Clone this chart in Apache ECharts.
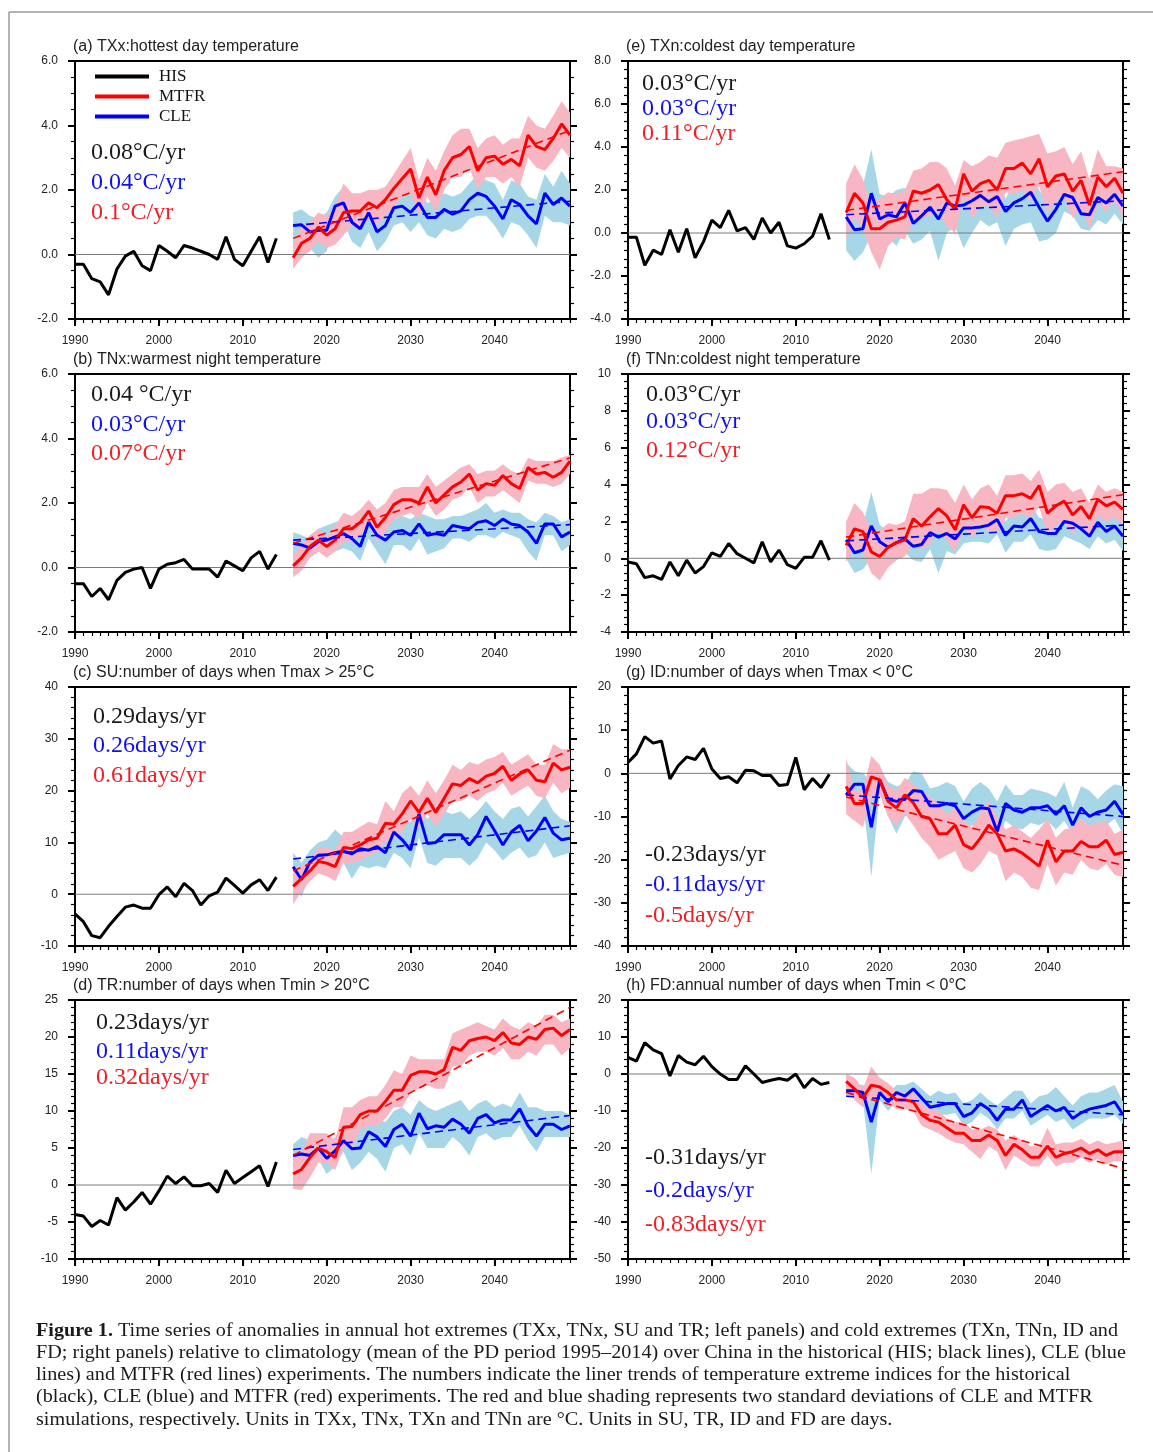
<!DOCTYPE html>
<html>
<head>
<meta charset="utf-8">
<script src="https://cdn.jsdelivr.net/npm/echarts@6/dist/echarts.min.js"></script>
<style>html,body{margin:0;background:#fff}#main{width:1153px;height:1452px}</style>
</head>
<body>
<div id="main"></div>
<script>
// years
var hisYears = [];
for (var y = 1990; y <= 2014; y++) hisYears.push(y);
var futYears = [];
for (var y = 2016; y <= 2049; y++) futYears.push(y);
var trendYears = [2016, 2049];

// (a) TXx
var txxHis = [-0.3,-0.3,-0.75,-0.85,-1.25,-0.45,-0.05,0.1,-0.35,-0.5, 0.28,0.1,-0.1,0.28,0.2,0.1,0.0,-0.15,0.55,-0.15, -0.35,0.1,0.55,-0.25,0.5];
var txxCle = [0.9,0.92,0.7,0.75,0.75,1.5,1.6,1.0,0.8,1.3, 0.7,0.9,1.45,1.5,1.3,1.6,1.15,1.15,1.4,1.25, 1.35,1.7,1.9,1.8,1.5,1.1,1.7,1.55,1.2,0.95, 1.9,1.55,1.75,1.5];
var txxCleHi = [1.3,1.4,1.2,1.1,1.3,1.8,2.1,1.5,1.3,1.8, 1.3,1.4,1.9,2.0,1.9,2.1,1.6,1.7,1.9,1.8, 1.9,2.2,2.5,2.3,2.2,1.7,2.3,2.2,1.8,1.7, 2.5,2.1,2.6,2.2];
var txxCleLo = [0.3,0.4,0.2,-0.1,0.1,1.0,1.0,0.4,0.2,0.7, 0.1,0.4,0.9,1.0,0.7,1.0,0.6,0.5,0.8,0.7, 0.8,1.1,1.2,1.2,0.9,0.5,1.0,0.9,0.6,0.2, 1.2,1.0,1.0,0.9];
var txxMtfr = [-0.1,0.35,0.5,0.85,0.6,0.8,1.3,1.35,1.35,1.6, 1.45,1.7,2.05,2.35,2.65,1.75,2.4,1.85,2.6,3.0, 3.1,3.35,2.6,3.0,3.05,2.8,2.95,2.75,3.7,3.35, 3.25,3.6,4.05,3.7];
var txxMtfrHi = [0.3,0.9,1.0,1.3,1.2,1.5,2.2,1.9,1.9,2.0, 2.0,2.1,2.5,2.9,3.3,2.3,3.0,2.6,3.2,3.7, 3.9,3.9,3.3,3.6,3.7,3.4,3.6,3.6,4.3,4.0, 3.9,4.3,4.75,4.4];
var txxMtfrLo = [-0.45,-0.1,0.1,0.4,0.2,0.3,0.6,0.9,0.9,1.1, 0.9,1.2,1.5,1.8,1.9,1.2,1.8,1.3,2.0,2.4, 2.4,2.7,2.0,2.4,2.4,2.2,2.4,2.1,3.0,2.7, 2.6,2.9,3.3,3.0];
var txxTrendCle = [0.9, 1.65];
var txxTrendMtfr = [0.5, 3.85];
var txxNotes = ['0.08°C/yr', '0.04°C/yr', '0.1°C/yr'];

// (b) TNx
var tnxHis = [-0.5,-0.5,-0.9,-0.65,-1.0,-0.4,-0.15,-0.05,0.0,-0.65, -0.05,0.1,0.15,0.25,-0.05,-0.05,-0.05,-0.3,0.2,0.05, -0.1,0.3,0.5,-0.05,0.4];
var tnxCle = [0.75,0.7,0.6,0.8,0.85,0.95,1.05,0.9,0.65,1.4, 1.0,0.85,1.1,1.15,1.0,1.35,1.0,1.05,1.0,1.3, 1.25,1.2,1.4,1.45,1.3,1.5,1.35,1.3,1.1,0.75, 1.35,1.35,0.95,1.1];
var tnxCleHi = [1.1,1.0,0.9,1.2,1.3,1.4,1.5,1.3,1.3,1.8, 1.4,1.4,1.5,1.6,1.5,1.7,1.6,1.5,1.5,1.6, 1.6,1.7,1.8,2.0,1.7,1.8,1.7,1.7,1.5,1.4, 1.7,1.6,1.4,1.5];
var tnxCleLo = [0.4,0.4,0.3,0.5,0.5,0.5,0.6,0.5,0.2,0.9, 0.5,0.1,0.7,0.7,0.5,0.9,0.4,0.5,0.6,0.9, 0.9,0.8,1.0,1.0,0.9,1.1,1.0,0.9,0.5,0.2, 1.0,1.0,0.5,0.7];
var tnxMtfr = [0.05,0.3,0.65,0.85,0.65,0.85,1.2,1.2,1.4,1.75, 1.25,1.55,1.95,2.1,2.1,2.0,2.5,2.0,2.25,2.5, 2.65,2.9,2.4,2.6,2.55,2.85,2.6,2.45,3.1,2.9, 2.95,2.8,2.95,3.3];
var tnxMtfrHi = [0.4,0.7,1.0,1.2,1.0,1.3,1.7,1.6,1.8,2.1, 1.8,2.0,2.4,2.5,2.5,2.5,2.9,2.5,2.7,2.9, 3.1,3.2,2.9,3.0,3.0,3.2,3.0,2.9,3.4,3.3, 3.3,3.3,3.4,3.5];
var tnxMtfrLo = [-0.3,-0.1,0.3,0.5,0.3,0.5,0.8,0.8,1.0,1.3, 0.8,1.1,1.5,1.6,1.7,1.5,2.0,1.6,1.8,2.1, 2.2,2.5,2.0,2.2,2.2,2.4,2.2,2.0,2.7,2.6, 2.6,2.5,2.6,2.9];
var tnxTrendCle = [0.85, 1.33];
var tnxTrendMtfr = [0.75, 3.4];
var tnxNotes = ['0.04 °C/yr', '0.03°C/yr', '0.07°C/yr'];

// (c) SU
var suHis = [-3.8,-5.3,-8.0,-8.4,-6.2,-4.3,-2.5,-2.1,-2.7,-2.7, -0.1,1.4,-0.5,2.1,0.7,-2.1,-0.3,0.4,3.1,1.7, 0.2,1.8,2.8,0.7,3.3];
var suCle = [5.3,2.8,6.2,7.5,7.6,8.0,8.3,7.8,8.8,8.5, 9.2,8.0,12.0,10.5,8.5,15.5,9.8,10.0,11.5,11.5, 11.5,9.5,11.5,15.0,12.3,9.5,12.0,13.3,10.3,12.2, 14.8,11.8,10.5,10.8];
var suCleHi = [8,6,8.5,10,10.5,12.5,11,11,12.5,12, 13.5,12,15,14,14,17,14.5,16,16,15.5, 16,14.5,16,18,16,14.5,16.5,17,15,17, 19,16,14.5,14];
var suCleLo = [2,-0.5,3.5,4.5,5,4.5,6,3,5.5,5, 5.5,5,8,7,5,11,6,5.5,7,7, 7,5.5,7,10,8.5,6.5,8,9,7,7.5, 10,7,7.5,8];
var suMtfr = [1.5,3.0,4.5,6.3,6.0,5.3,9.0,8.8,9.5,10.5, 10.8,13.7,13.5,15.5,18.0,15.8,18.5,15.8,18.5,21.3, 21.0,22.3,21.5,22.8,23.3,24.7,22.0,23.2,24.0,22.0, 21.7,25.3,24.0,24.5];
var suMtfrHi = [4,5.5,6.5,9,9,8.5,12,12,13,14, 13.5,18,16,19.5,21,19,22,19.5,22,25, 24,25.5,25,26,26.5,27.5,25,26,27,25, 25,29,28,28];
var suMtfrLo = [-2,0.5,2.5,4,3.5,2.5,6,6,6.5,7.5, 8,10,11,12,14.5,13,15.5,13,15.5,18, 18,19,18,19.5,20,21.5,19,20,21,19, 18.5,21.5,19.5,20.5];
var suTrendCle = [6.8, 13.2];
var suTrendMtfr = [4.5, 27.8];
var suNotes = ['0.29days/yr', '0.26days/yr', '0.61days/yr'];

// (d) TR
var trHis = [-4.0,-4.2,-5.6,-4.8,-5.4,-1.7,-3.4,-2.3,-1.0,-2.6, -0.8,1.2,0.2,1.1,-0.1,-0.1,0.2,-1.0,2.0,0.2, 1.0,1.8,2.6,-0.2,3.1];
var trCle = [4.0,4.2,4.0,5.0,3.6,4.6,6.0,4.9,5.0,7.2, 6.5,5.2,7.5,8.2,6.6,9.7,7.6,8.0,7.8,8.9, 8.2,7.0,9.0,9.5,8.4,8.8,8.8,10.3,8.0,6.6, 8.2,8.2,7.5,8.0];
var trCleHi = [5.5,6.5,6,6,5.5,6.5,8,7.5,8.5,9.5, 9,8.5,10,10.5,9.5,11.5,10.5,10,10.5,11, 11.5,10,11,11.5,10.5,11,10.5,12.5,10.5,10.5, 10,10,10,9.5];
var trCleLo = [2.5,2,2.5,3.5,1.5,2.5,4.5,2,3,4.5, 3.5,1.8,5,5.5,4,7,5,5,5,6.5, 5.5,4,6.5,7,6,6.5,6.5,8,6,4.5, 6.5,6.5,6.5,6.5];
var trMtfr = [1.5,2.1,3.7,5.0,4.5,3.7,7.8,7.9,9.5,10.0, 10.0,11.3,12.8,12.8,14.8,15.3,15.3,15.0,15.6,18.6, 18.2,19.5,19.8,20.0,19.5,20.6,19.2,19.0,20.0,19.7, 21.0,21.2,20.2,21.0];
var trMtfrHi = [3.5,4.5,7,7,7,6,10.5,10.5,11.5,12, 12,13.5,15.5,15,17.5,17,17,17,17,20.5, 21,21.5,22,21.5,21,22.5,21.5,21,22,21.5, 23,23,22,22.5];
var trMtfrLo = [-0.5,-0.7,1,3,3,2,5,5,7.5,8, 8,9,10.5,10.5,12.5,13,13.5,13,13,16, 16,17.5,18,18,17.5,18.5,17,17,18,17.5, 19,19,17.5,18.5];
var trTrendCle = [4.8, 9.4];
var trTrendMtfr = [4.0, 24.0];
var trNotes = ['0.23days/yr', '0.11days/yr', '0.32days/yr'];

// (e) TXn
var txnHis = [-0.2,-0.2,-1.5,-0.8,-1.0,0.15,-0.9,0.2,-1.15,-0.4, 0.6,0.25,1.05,0.1,0.25,-0.3,0.7,0.0,0.5,-0.6, -0.7,-0.5,-0.15,0.9,-0.3];
var txnCle = [0.75,0.15,0.2,1.85,0.65,0.85,0.75,1.4,0.45,0.8, 1.2,0.65,1.4,1.25,1.3,1.5,1.75,1.45,1.7,1.0, 1.4,1.6,1.9,1.2,0.55,1.1,1.8,1.65,0.9,0.85, 1.65,1.4,1.8,1.25];
var txnCleHi = [2.0,1.6,2.2,3.9,1.8,1.7,2.0,2.1,1.3,1.9, 2.2,1.5,2.6,2.0,1.9,2.3,2.6,2.2,2.5,1.6, 2.3,2.3,2.8,2.0,1.4,2.0,2.5,2.5,1.6,1.5, 2.3,2.0,2.5,2.0];
var txnCleLo = [-0.8,-1.3,-0.9,-0.1,-0.8,-0.2,-0.6,0.1,-0.5,-0.3, 0.1,-1.3,0.0,0.3,-0.7,0.0,0.6,0.3,0.5,-0.6, 0.2,0.4,0.5,-0.4,-0.3,0.0,1.0,0.8,0.2,0.1, 0.6,0.4,0.9,0.4];
var txnMtfr = [0.95,1.85,1.4,0.2,0.2,0.5,0.6,0.75,1.95,1.85, 2.0,2.25,1.55,1.1,2.75,1.95,2.3,2.45,2.0,3.0, 3.0,3.25,2.75,3.45,2.15,2.65,2.75,1.95,2.45,1.3, 2.6,2.15,2.55,1.85];
var txnMtfrHi = [2.3,3.2,2.5,1.3,1.6,1.9,1.8,2.0,2.9,3.0, 3.3,3.3,3.0,2.2,3.4,3.1,3.3,3.6,3.5,4.2, 4.3,4.4,4.5,4.6,3.7,3.8,4.0,3.2,3.8,2.5, 3.9,3.1,3.1,3.0];
var txnMtfrLo = [-0.3,0.7,0.2,-0.9,-1.7,-0.6,-0.2,-0.3,0.6,0.7, 0.8,1.0,0.3,0.0,1.7,0.7,1.2,1.3,0.7,1.9, 1.8,2.0,1.5,2.2,0.9,1.5,1.6,0.7,1.2,0.2, 1.4,1.0,1.5,0.7];
var txnTrendCle = [0.85, 1.5];
var txnTrendMtfr = [1.05, 2.85];
var txnNotes = ['0.03°C/yr', '0.03°C/yr', '0.11°C/yr'];

// (f) TNn
var tnnHis = [-0.2,-0.3,-1.05,-0.95,-1.15,-0.2,-0.95,-0.1,-0.8,-0.45, 0.3,0.1,0.8,0.25,0.0,-0.25,0.9,-0.2,0.45,-0.35, -0.55,0.05,0.05,0.95,-0.1];
var tnnCle = [1.0,0.3,0.45,1.75,0.9,0.6,0.85,1.05,0.65,0.75, 1.4,1.15,1.35,1.05,1.65,1.65,1.7,1.8,2.1,1.25, 1.75,1.7,2.15,1.45,1.35,1.35,2.0,1.9,1.6,1.2, 1.95,1.45,1.75,1.2];
var tnnCleHi = [2.0,1.4,1.8,3.6,1.8,1.5,1.7,2.0,1.5,1.6, 2.2,2.0,2.2,1.8,2.5,2.4,2.6,2.6,2.9,2.0, 2.6,2.5,3.0,2.2,2.1,2.1,2.8,2.7,2.3,1.9, 2.7,2.2,2.5,2.0];
var tnnCleLo = [0.0,-0.8,-0.6,0.0,0.1,-0.1,0.1,0.3,-0.1,-0.2, 0.5,-0.8,0.4,0.2,0.8,0.9,0.9,0.8,1.3,0.3, 0.9,0.9,1.3,0.5,0.4,0.5,1.2,1.0,0.8,0.5, 1.2,0.8,1.0,0.4];
var tnnMtfr = [0.7,1.6,1.45,0.35,0.1,0.6,0.85,1.0,2.15,1.75, 2.25,2.7,2.3,1.55,2.9,2.2,2.8,2.75,2.45,3.4, 3.4,3.5,3.25,3.95,2.45,2.85,3.1,2.35,2.8,2.15, 3.2,2.85,3.05,2.65];
var tnnMtfrHi = [2.0,3.0,2.5,1.5,1.5,1.9,1.8,2.0,3.5,3.5, 3.8,3.8,3.7,3.0,4.0,3.2,3.8,4.0,3.4,4.5, 4.5,4.6,4.2,4.8,3.6,4.0,4.1,3.6,3.8,3.0, 4.0,3.6,3.8,3.6];
var tnnMtfrLo = [-0.2,0.5,0.3,-0.8,-1.2,-0.5,-0.1,0.1,0.8,0.5, 0.8,1.5,1.0,0.3,1.7,1.1,1.7,1.5,1.3,2.2, 2.2,2.4,2.2,2.8,1.3,1.8,2.0,1.3,1.8,1.2, 2.3,2.0,2.2,1.8];
var tnnTrendCle = [0.95, 1.8];
var tnnTrendMtfr = [1.15, 3.45];
var tnnNotes = ['0.03°C/yr', '0.03°C/yr', '0.12°C/yr'];

// (g) ID
var idHis = [2.5,4.5,8.5,7.0,7.5,-1.3,1.8,3.8,3.2,5.8, 1.0,-1.2,-0.8,-2.2,0.7,0.6,-0.5,-0.5,-2.8,-2.6, 3.7,-3.8,-1.2,-3.3,-0.2];
var idCle = [-5.0,-2.5,-2.5,-12.5,-1.5,-6.0,-6.5,-6.0,-4.0,-4.2, -7.5,-7.5,-7.0,-7.5,-10.5,-9.0,-8.0,-8.2,-13.5,-7.0, -8.5,-9.0,-8.0,-8.0,-7.5,-9.5,-7.5,-12.0,-8.0,-10.0, -9.0,-8.5,-6.5,-9.5];
var idCleHi = [2.5,0.5,0,-2,1.5,-2,-3,-2.5,0.5,0, -3.5,-3,-2,-3,-6.5,-3.5,-2,-3.5,-6.5,-2.5, -5,-5,-3.5,-4,-4.5,-5.5,-2,-8,-3,-4, -6,-4,-2.5,-3];
var idCleLo = [-8,-6,-6,-24,-4.5,-10,-14,-10,-9,-9, -11,-11,-10.5,-11,-14,-12,-12,-12,-16,-11, -12.5,-13,-11.5,-12,-11,-13,-11,-14,-11.5,-13, -11.5,-12,-10.5,-14];
var idMtfr = [-3.0,-7.0,-7.0,-0.8,-1.5,-6.5,-8.0,-5.0,-6.8,-10.0, -10.5,-14.0,-14.0,-12.0,-16.5,-17.5,-15.0,-12.0,-14.0,-18.0, -17.5,-18.5,-20.0,-21.5,-15.5,-20.5,-18.0,-18.0,-15.8,-17.0, -17.0,-15.5,-18.8,-18.3];
var idMtfrHi = [3.5,-4,-4,4,2,-3,-4,-1,-2.5,-4, -5.5,-7,-9.5,-8,-11,-12.5,-9,-6.5,-10,-13, -12,-13.5,-15,-13,-10.5,-15,-13,-12.5,-10.5,-12, -11.5,-11,-14,-13];
var idMtfrLo = [-9.5,-11,-12.5,-6,-5,-10,-12,-9.5,-12,-15, -17,-20,-19,-18,-22,-23,-21,-18,-19,-25, -23,-24,-26.5,-27,-21,-26,-23,-23.5,-20,-22, -22.5,-21,-23.5,-24];
var idTrendCle = [-5.0, -10.0];
var idTrendMtfr = [-5.5, -21.3];
var idNotes = ['-0.23days/yr', '-0.11days/yr', '-0.5days/yr'];

// (h) FD
var fdHis = [4.5,3.5,8.5,6.5,5.5,-0.5,5.0,3.2,2.5,4.8, 2.0,0.0,-1.5,-1.5,2.2,0.0,-2.3,-1.7,-1.2,-1.7, 0.0,-3.7,-1.2,-2.8,-2.3];
var fdCle = [-4.5,-4.5,-5.0,-13.0,-5.0,-7.5,-5.0,-6.0,-4.0,-6.5, -9.0,-8.5,-8.0,-8.0,-11.5,-10.5,-8.0,-9.5,-12.5,-9.5, -9.5,-7.0,-11.5,-10.0,-8.5,-10.0,-9.0,-12.0,-10.5,-9.5, -9.0,-8.5,-7.5,-11.0];
var fdCleHi = [-3,-2.5,-3,-4.5,-3,-5.5,-3,-3,-2,-4, -6,-4.5,-5.5,-5,-8,-7,-5,-7,-8.5,-6.5, -4.5,-4.5,-8,-6,-5.5,-3.5,-6,-8.5,-6,-5, -5,-4,-3,-7.5];
var fdCleLo = [-6,-6.5,-7,-27,-7,-10,-7.5,-9,-7,-9, -11.5,-11,-11,-10.5,-14,-13,-10.5,-12,-15,-12, -12,-10,-14,-12.5,-11,-13,-12,-15,-13.5,-12, -12,-12,-11,-13.5];
var fdMtfr = [-2.0,-4.0,-6.5,-3.0,-3.5,-5.0,-7.0,-7.0,-7.5,-11.0, -12.5,-13.0,-14.5,-16.0,-16.0,-18.0,-18.0,-16.5,-18.0,-22.0, -19.0,-20.5,-22.5,-22.5,-19.5,-22.5,-21.5,-21.0,-20.0,-21.5, -20.5,-22.0,-21.0,-21.0];
var fdMtfrHi = [0,-1,-4,2,-1,-2.5,-4.5,-5,-5,-8, -9.5,-10,-12,-13,-13,-15,-15,-14,-15,-18, -16.5,-18,-19.5,-19.5,-14.5,-19,-18.5,-18.5,-17.5,-19, -18,-19,-18.5,-18];
var fdMtfrLo = [-4,-7,-9,-7,-6,-7.5,-9.5,-9.5,-10,-14, -15,-16,-17.5,-18.5,-19,-21,-23,-19.5,-21,-26, -22,-23.5,-25,-25,-22,-25,-24,-24,-22.5,-24, -23,-24.5,-23.5,-23.5];
var fdTrendCle = [-6.0, -11.0];
var fdTrendMtfr = [-5.0, -25.5];
var fdNotes = ['-0.31days/yr', '-0.2days/yr', '-0.83days/yr'];

var captionLines = [
    '{b|Figure 1.} Time series of anomalies in annual hot extremes (TXx, TNx, SU and TR; left panels) and cold extremes (TXn, TNn, ID and',
    'FD; right panels) relative to climatology (mean of the PD period 1995–2014) over China in the historical (HIS; black lines), CLE (blue',
    'lines) and MTFR (red lines) experiments. The numbers indicate the liner trends of temperature extreme indices for the historical',
    '(black), CLE (blue) and MTFR (red) experiments. The red and blue shading represents two standard deviations of CLE and MTFR',
    'simulations, respectively. Units in TXx, TNx, TXn and TNn are °C. Units in SU, TR, ID and FD are days.'
];

var panels = [
    {title: '(a) TXx:hottest day temperature', his: txxHis, cle: txxCle, cleLo: txxCleLo, cleHi: txxCleHi, mtfr: txxMtfr, mtfrLo: txxMtfrLo, mtfrHi: txxMtfrHi, tCle: txxTrendCle, tMtfr: txxTrendMtfr, notes: txxNotes, yMin: -2, yMax: 6, step: 2, minor: 4, dec: 1},
    {title: '(b) TNx:warmest night temperature', his: tnxHis, cle: tnxCle, cleLo: tnxCleLo, cleHi: tnxCleHi, mtfr: tnxMtfr, mtfrLo: tnxMtfrLo, mtfrHi: tnxMtfrHi, tCle: tnxTrendCle, tMtfr: tnxTrendMtfr, notes: tnxNotes, yMin: -2, yMax: 6, step: 2, minor: 4, dec: 1},
    {title: '(c) SU:number of days when Tmax > 25°C', his: suHis, cle: suCle, cleLo: suCleLo, cleHi: suCleHi, mtfr: suMtfr, mtfrLo: suMtfrLo, mtfrHi: suMtfrHi, tCle: suTrendCle, tMtfr: suTrendMtfr, notes: suNotes, yMin: -10, yMax: 40, step: 10, minor: 5, dec: 0},
    {title: '(d) TR:number of days when Tmin > 20°C', his: trHis, cle: trCle, cleLo: trCleLo, cleHi: trCleHi, mtfr: trMtfr, mtfrLo: trMtfrLo, mtfrHi: trMtfrHi, tCle: trTrendCle, tMtfr: trTrendMtfr, notes: trNotes, yMin: -10, yMax: 25, step: 5, minor: 5, dec: 0},
    {title: '(e) TXn:coldest day temperature', his: txnHis, cle: txnCle, cleLo: txnCleLo, cleHi: txnCleHi, mtfr: txnMtfr, mtfrLo: txnMtfrLo, mtfrHi: txnMtfrHi, tCle: txnTrendCle, tMtfr: txnTrendMtfr, notes: txnNotes, yMin: -4, yMax: 8, step: 2, minor: 5, dec: 1},
    {title: '(f) TNn:coldest night temperature', his: tnnHis, cle: tnnCle, cleLo: tnnCleLo, cleHi: tnnCleHi, mtfr: tnnMtfr, mtfrLo: tnnMtfrLo, mtfrHi: tnnMtfrHi, tCle: tnnTrendCle, tMtfr: tnnTrendMtfr, notes: tnnNotes, yMin: -4, yMax: 10, step: 2, minor: 5, dec: 0},
    {title: '(g) ID:number of days when Tmax < 0°C', his: idHis, cle: idCle, cleLo: idCleLo, cleHi: idCleHi, mtfr: idMtfr, mtfrLo: idMtfrLo, mtfrHi: idMtfrHi, tCle: idTrendCle, tMtfr: idTrendMtfr, notes: idNotes, yMin: -40, yMax: 20, step: 10, minor: 5, dec: 0},
    {title: '(h) FD:annual number of days when Tmin < 0°C', his: fdHis, cle: fdCle, cleLo: fdCleLo, cleHi: fdCleHi, mtfr: fdMtfr, mtfrLo: fdMtfrLo, mtfrHi: fdMtfrHi, tCle: fdTrendCle, tMtfr: fdTrendMtfr, notes: fdNotes, yMin: -50, yMax: 20, step: 10, minor: 5, dec: 0}
];

// where each panel sits on the page
var layout = [
    {left: 75, top: 61, h: 258, nx: 91, ny: [153, 183, 213]},
    {left: 75, top: 374, h: 258, nx: 91, ny: [395, 425, 454]},
    {left: 75, top: 687, h: 259, nx: 93, ny: [717, 746, 776]},
    {left: 75, top: 1000, h: 259, nx: 96, ny: [1023, 1052, 1078]},
    {left: 628, top: 61, h: 258, nx: 642, ny: [84, 109, 134]},
    {left: 628, top: 374, h: 258, nx: 646, ny: [395, 422, 451]},
    {left: 628, top: 687, h: 259, nx: 645, ny: [855, 885, 916]},
    {left: 628, top: 1000, h: 259, nx: 645, ny: [1158, 1191, 1225]}
];
var panelW = 495;

var BLACK = '#000', BLUE = '#0000ff', RED = '#ff0000';
var LIGHTBLUE = '#a7d7e7', PINK = '#f8b6c2';
var noteColors = ['#1a1a1a', '#1111ee', '#ee2026'];

function pair(xs, ys) {
    return xs.map(function (x, k) { return [x, ys[k]]; });
}

// shaded spread: one polygon drawn through the axis scales
function bandSeries(i, lo, hi, color) {
    return {
        type: 'custom', xAxisIndex: 2 * i, yAxisIndex: 2 * i, silent: true, z: 1, clip: true,
        data: futYears.map(function (yr, k) { return [yr, lo[k], hi[k]]; }),
        encode: {x: 0, y: [1, 2]},
        renderItem: function (params, api) {
            if (params.dataIndex !== 0) return null;
            var pts = [];
            for (var k = 0; k < futYears.length; k++) pts.push(api.coord([futYears[k], hi[k]]));
            for (var k = futYears.length - 1; k >= 0; k--) pts.push(api.coord([futYears[k], lo[k]]));
            return {type: 'polygon', shape: {points: pts}, style: {fill: color}};
        }
    };
}

var grids = [], xAxes = [], yAxes = [], series = [], graphics = [];
var labelFont = {fontFamily: 'Liberation Sans', fontSize: 12, color: '#222'};

panels.forEach(function (p, i) {
    var L = layout[i];
    grids.push({left: L.left, top: L.top, width: panelW, height: L.h, show: true, borderColor: '#000', borderWidth: 2});
    // decades with labels
    xAxes.push({
        gridIndex: i, type: 'value', position: 'bottom', min: 1990, max: 2049, interval: 10,
        axisLine: {onZero: false, lineStyle: {color: '#000', width: 2}},
        axisTick: {length: 7, lineStyle: {color: '#000', width: 2}},
        axisLabel: Object.assign({margin: 16, showMaxLabel: false, formatter: function (v) { return String(v); }}, labelFont),
        splitLine: {show: false}
    });
    // one small tick per year
    xAxes.push({
        gridIndex: i, type: 'value', position: 'bottom', min: 1990, max: 2049, interval: 1,
        axisLine: {show: false, onZero: false},
        axisTick: {length: 4, lineStyle: {color: '#000', width: 1.2}},
        axisLabel: {show: false}, splitLine: {show: false}
    });
    var yBase = {
        gridIndex: i, type: 'value', min: p.yMin, max: p.yMax, interval: p.step,
        axisLine: {show: true, onZero: false, lineStyle: {color: '#000', width: 2}},
        axisTick: {length: 7, lineStyle: {color: '#000', width: 2}},
        minorTick: {show: true, splitNumber: p.minor, length: 4, lineStyle: {color: '#000', width: 1.2}},
        splitLine: {show: false}, minorSplitLine: {show: false}
    };
    yAxes.push(Object.assign({}, yBase, {
        position: 'left',
        axisLabel: Object.assign({margin: 17, formatter: function (v) { return v.toFixed(p.dec); }}, labelFont)
    }));
    yAxes.push(Object.assign({}, yBase, {position: 'right', axisLabel: {show: false}}));

    var ax = {xAxisIndex: 2 * i, yAxisIndex: 2 * i};
    series.push(bandSeries(i, p.cleLo, p.cleHi, LIGHTBLUE));
    series.push(bandSeries(i, p.mtfrLo, p.mtfrHi, PINK));
    series.push(Object.assign({type: 'line', name: 'zero', data: [[1990, 0], [2049, 0]], showSymbol: false, silent: true, z: 2,
        lineStyle: {color: '#7a7a7a', width: 1}}, ax));
    series.push(Object.assign({type: 'line', name: 'HIS', color: BLACK, data: pair(hisYears, p.his), showSymbol: false, z: 3,
        lineStyle: {color: BLACK, width: 3}}, ax));
    series.push(Object.assign({type: 'line', name: 'CLE', color: BLUE, data: pair(futYears, p.cle), showSymbol: false, z: 4,
        lineStyle: {color: BLUE, width: 3}}, ax));
    series.push(Object.assign({type: 'line', name: 'MTFR', color: RED, data: pair(futYears, p.mtfr), showSymbol: false, z: 5,
        lineStyle: {color: RED, width: 3}}, ax));
    series.push(Object.assign({type: 'line', name: 'CLE trend', data: pair(trendYears, p.tCle), showSymbol: false, z: 6,
        lineStyle: {color: BLUE, width: 1.6, type: [8, 5]}}, ax));
    series.push(Object.assign({type: 'line', name: 'MTFR trend', data: pair(trendYears, p.tMtfr), showSymbol: false, z: 6,
        lineStyle: {color: RED, width: 1.6, type: [8, 5]}}, ax));

    graphics.push({type: 'text', x: L.left - 2, y: L.top - 14, silent: true,
        style: {text: p.title, fill: '#222', font: '16px "Liberation Sans"', verticalAlign: 'middle'}});
    p.notes.forEach(function (t, k) {
        graphics.push({type: 'text', x: L.nx, y: L.ny[k], silent: true,
            style: {text: t, fill: noteColors[k], font: '24px "Liberation Serif"', verticalAlign: 'middle'}});
    });
});

// page frame (left and top edges)
graphics.push({type: 'line', silent: true, shape: {x1: 9, y1: 12, x2: 1153, y2: 12}, style: {stroke: '#9a9a9a', lineWidth: 1.5}});
graphics.push({type: 'line', silent: true, shape: {x1: 9, y1: 12, x2: 9, y2: 1452}, style: {stroke: '#9a9a9a', lineWidth: 1.5}});

// caption, stretched to the measured line length
var capSize = 19;
var ctx = document.createElement('canvas').getContext('2d');
ctx.font = 'bold ' + capSize + 'px "Liberation Serif"';
var wb = ctx.measureText('Figure 1.').width;
ctx.font = capSize + 'px "Liberation Serif"';
var wr = ctx.measureText(captionLines[0].replace('{b|Figure 1.}', '')).width;
var capScale = (1118 - 36) / (wb + wr);
var capY = [1331, 1353, 1375, 1397, 1420];
captionLines.forEach(function (t, k) {
    graphics.push({type: 'text', x: 36, y: capY[k], scaleX: capScale, silent: true,
        style: {text: t, fill: '#1a1a1a', fontFamily: 'Liberation Serif', fontSize: capSize, verticalAlign: 'middle',
            rich: {b: {fontWeight: 'bold', fontFamily: 'Liberation Serif', fontSize: capSize, fill: '#1a1a1a'}}}});
});

var myChart = echarts.init(document.getElementById('main'));
myChart.setOption({
    backgroundColor: '#fff',
    animation: false,
    grid: grids,
    xAxis: xAxes,
    yAxis: yAxes,
    legend: {
        data: ['HIS', 'MTFR', 'CLE'], left: 90, top: 63, orient: 'vertical', icon: 'rect',
        itemWidth: 54, itemHeight: 4, itemGap: 3, selectedMode: false,
        textStyle: {fontFamily: 'Liberation Serif', fontSize: 17, color: '#111', padding: [0, 0, 0, 5]}
    },
    series: series,
    graphic: graphics
});
</script>
</body>
</html>
